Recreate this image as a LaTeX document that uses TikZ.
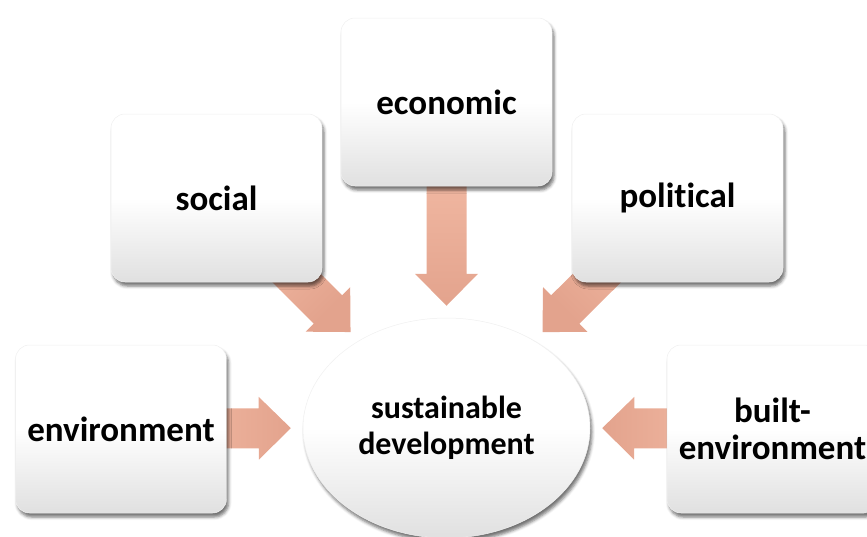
\documentclass[tikz,border=0pt]{standalone}
\usepackage{fontspec}
\setmainfont{Carlito}[Ligatures={NoCommon}]
\usetikzlibrary{calc,shapes.geometric,shadows.blur}

\definecolor{peachlight}{HTML}{F8C3AD}
\definecolor{peachdark}{HTML}{E3A38D}
\definecolor{boxgray}{HTML}{E0E0E0}

\pgfdeclarelayer{background}
\pgfsetlayers{background,main}

\tikzset{
  card/.style={top color=white, bottom color=boxgray, middle color=white,
    draw=black!6, line width=0.5pt,
    blur shadow={shadow xshift=2pt, shadow yshift=-4pt, shadow blur radius=3pt, shadow opacity=55},
    font=\fontsize{35}{37}\selectfont\bfseries, align=center, inner sep=2pt},
  pillar/.style={card, rectangle, rounded corners=14pt, minimum width=211pt, minimum height=168pt},
  hub/.style={card, ellipse, minimum width=287pt, minimum height=220pt,
    font=\fontsize{32}{36}\selectfont\bfseries},
  flow/.style={top color=peachlight, bottom color=peachdark}
}

% block arrow from a box towards the hub: #1 box, #2 hub point, #3 shading angle
\newcommand{\inflow}[3]{
  \coordinate (t) at ($(#2)!12pt!(#1)$);
  \coordinate (h) at ($(t)!32pt!(#1)$);
  \shade[flow, shading angle=#3]
    ($(#1)!20pt!90:(t)$) -- ($(h)!20pt!90:(t)$) -- ($(h)!31.5pt!90:(t)$) -- (t)
    -- ($(h)!31.5pt!-90:(t)$) -- ($(h)!20pt!-90:(t)$) -- ($(#1)!20pt!-90:(t)$) -- cycle;
}

\begin{document}
\begin{tikzpicture}[x=1pt, y=-1pt]
  \useasboundingbox (0,0) rectangle (867,536);
  \clip (0,0) rectangle (867,536);

  \node[hub] (core) at (446.5,428) {sustainable\\development};

  \node[pillar] (econ) at (446.5,102) {economic};
  \node[pillar] (social) at (216.5,198) {social};
  \node[pillar] (polit) at (677.5,198) {political};
  \node[pillar] (env) at (121,429) {environment};
  \node[pillar] (built) at (772.5,429) {built-\\environment};

  \begin{pgfonlayer}{background}
    \inflow{econ}{core.north}{0}
    \inflow{social}{core.135}{45}
    \inflow{polit}{core.45}{-45}
    \inflow{env}{core.west}{90}
    \inflow{built}{core.east}{-90}
  \end{pgfonlayer}
\end{tikzpicture}
\end{document}
